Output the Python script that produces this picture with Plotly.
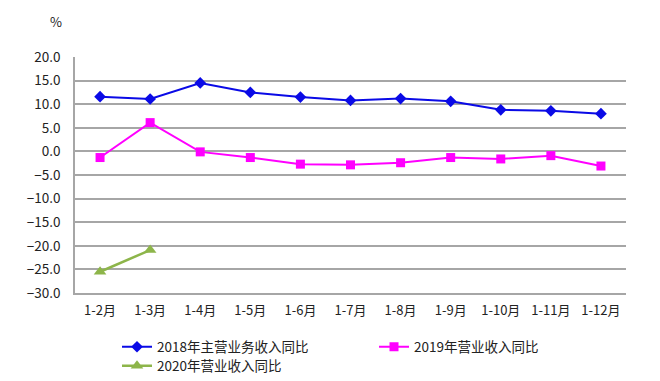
import plotly.graph_objects as go

categories = ["1-2月", "1-3月", "1-4月", "1-5月", "1-6月", "1-7月", "1-8月", "1-9月", "1-10月", "1-11月", "1-12月"]
s2018 = [11.6, 11.1, 14.5, 12.5, 11.5, 10.8, 11.2, 10.6, 8.8, 8.6, 8.0]
s2019 = [-1.3, 6.1, -0.1, -1.3, -2.7, -2.85, -2.4, -1.3, -1.6, -0.9, -3.1]
s2020 = [-25.5, -20.9]
names = ["2018年主营业务收入同比", "2019年营业收入同比", "2020年营业收入同比"]
y_ticks = [20, 15, 10, 5, 0, -5, -10, -15, -20, -25, -30]

FONT = "'Noto Sans CJK SC', 'Noto Sans', sans-serif"
W, H = 660, 381
OFF = 8  # page body margin shifts the figure by 8px
# target plot area in screen pixels: x 75..626, y 57..293
ml, mt = 75 - OFF, 57 - OFF
mr, mb = W - (626 - OFF), H - (293 - OFF)
pw, ph = W - ml - mr, H - mt - mb

def cx(x):
    return (x - OFF) / W

def cy(y):
    return 1 - (y - OFF) / H

fig = go.Figure()
fig.add_trace(go.Scatter(x=categories, y=s2018, name=names[0], mode="lines+markers",
                         line=dict(color="#0a0ae6", width=2),
                         marker=dict(symbol="diamond", size=9, color="#0a0ae6"),
                         legend="legend"))
fig.add_trace(go.Scatter(x=categories, y=s2019, name=names[1], mode="lines+markers",
                         line=dict(color="#ff00ff", width=2),
                         marker=dict(symbol="square", size=9, color="#ff00ff"),
                         legend="legend2"))
fig.add_trace(go.Scatter(x=categories[:len(s2020)], y=s2020, name=names[2], mode="lines+markers",
                         line=dict(color="#8db54a", width=2.5),
                         marker=dict(symbol="triangle-up", size=11, color="#8db54a"),
                         legend="legend3"))

leg_common = dict(font=dict(family=FONT, size=13.5, color="#222"), bgcolor="rgba(0,0,0,0)",
                  xanchor="left", yanchor="middle", itemwidth=30, tracegroupgap=0,
                  xref="container", yref="container")

fig.update_layout(
    template="none",
    width=W, height=H,
    margin=dict(l=ml, r=mr, t=mt, b=mb, autoexpand=False),
    paper_bgcolor="white", plot_bgcolor="white",
    font=dict(family=FONT, size=12, color="#222"),
    showlegend=True,
    legend=dict(x=cx(117), y=cy(347), **leg_common),
    legend2=dict(x=cx(374), y=cy(347), **leg_common),
    legend3=dict(x=cx(117), y=cy(366), **leg_common),
    xaxis=dict(type="category", categoryorder="array", categoryarray=categories,
               range=[-0.5, len(categories) - 0.5], automargin=False,
               showgrid=False, showline=True, linecolor="#a6a6a6", linewidth=1.5,
               ticks="", tickfont=dict(family=FONT, size=13, color="#222"), ticklabelstandoff=5,
               zeroline=False),
    yaxis=dict(range=[-30, 20], tickvals=y_ticks, tickformat=".1f", automargin=False,
               showgrid=True, gridcolor="#a6a6a6", gridwidth=1.5,
               showline=True, linecolor="#a6a6a6", linewidth=1.5,
               zeroline=False, ticks="", tickfont=dict(family=FONT, size=13.5, color="#222"),
               ticklabelstandoff=10),
    annotations=[dict(text="%", xref="paper", yref="paper",
                      x=(56 - OFF - ml) / pw, y=(H - mb - (22 - OFF)) / ph,
                      xanchor="center", yanchor="middle",
                      showarrow=False, font=dict(family=FONT, size=13, color="#222"))],
)

fig.write_html("out.html")
